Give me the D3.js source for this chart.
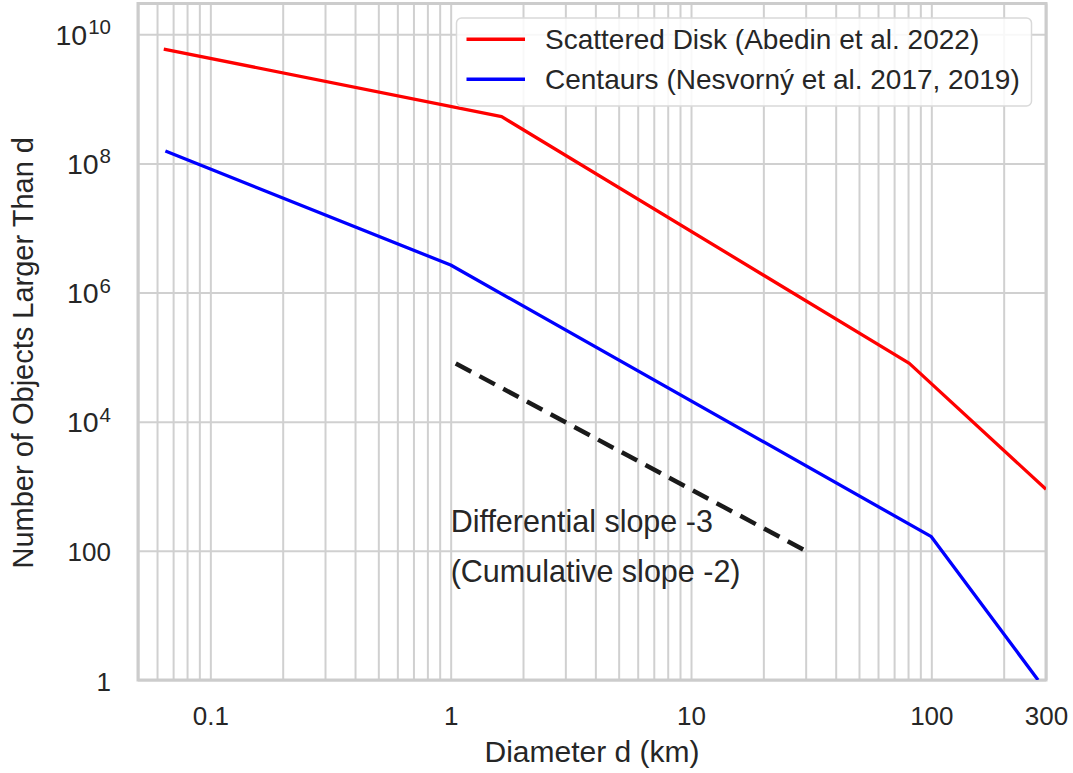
<!DOCTYPE html>
<html><head><meta charset="utf-8">
<script src="https://cdn.jsdelivr.net/npm/d3@7"></script>
<style>
body{margin:0;background:#fff}
svg text{font-family:"Liberation Sans",Arial,Helvetica,sans-serif;fill:#262626}
</style>
</head><body><svg id="chart" width="1073" height="773"></svg>
<script>
// ---- data ----
const sdDiameter = [0.064, 1.63, 81, 300];
const sdCount = [5.9e9, 5.3e8, 8.0e4, 900];
const cenDiameter = [0.065, 1.0, 100, 278];
const cenCount = [1.56e8, 2.67e6, 166, 1];
const refDiameter = [1.05, 30];
const refCount = [8.0e4, 100];
const xTicks = [0.1, 1, 10, 100, 300];
const xTickLabels = ["0.1", "1", "10", "100", "300"];
const yTicks = [1, 100, 1e4, 1e6, 1e8, 1e10];
const yTickBase = ["1", "100", "10", "10", "10", "10"];
const yTickExp = ["", "", "4", "6", "8", "10"];
const seriesNames = ["Scattered Disk (Abedin et al. 2022)", "Centaurs (Nesvorný et al. 2017, 2019)"];
const seriesColors = ["#ff0000", "#0000ff"];
const annotationText = ["Differential slope -3", "(Cumulative slope -2)"];
const annotationD = [1, 1];
const annotationN = [198, 33];
const xLabel = "Diameter d (km)";
const yLabel = "Number of Objects Larger Than d";

// ---- layout ----
const L = 138, R = 1046, T = 3.5, B = 680;
const svg = d3.select("#chart");
const x = d3.scaleLog().domain([0.05, 300]).range([L, R]);
const y = d3.scaleLog().domain([1, 3e10]).range([B, T]);

// vertical grid (major + minor)
const gx = svg.append("g").attr("transform", `translate(0,${B})`)
  .call(d3.axisBottom(x).tickValues(x.ticks()).tickSize(-(B - T)).tickFormat(""));
gx.select(".domain").remove();
gx.selectAll("line").attr("stroke", "#d0d0d0").attr("stroke-width", 2);

// horizontal grid (major only)
const gy = svg.append("g").attr("transform", `translate(${L},0)`)
  .call(d3.axisLeft(y).tickValues(yTicks).tickSize(-(R - L)).tickFormat(""));
gy.select(".domain").remove();
gy.selectAll("line").attr("stroke", "#d0d0d0").attr("stroke-width", 2);

// frame
svg.append("rect").attr("x", L).attr("y", T).attr("width", R - L).attr("height", B - T)
  .attr("fill", "none").attr("stroke", "#cccccc").attr("stroke-width", 3);

// clip
svg.append("clipPath").attr("id", "clip").append("rect")
  .attr("x", L).attr("y", T).attr("width", R - L).attr("height", B - T);

const line = d3.line().x(d => x(d[0])).y(d => y(d[1]));
const plot = svg.append("g").attr("clip-path", "url(#clip)");

plot.append("path").datum(refDiameter.map((d, i) => [d, refCount[i]]))
  .attr("d", line).attr("fill", "none").attr("stroke", "#1a1a1a")
  .attr("stroke-width", 4.5).attr("stroke-dasharray", "17.5,9.4");

plot.append("path").datum(sdDiameter.map((d, i) => [d, sdCount[i]]))
  .attr("d", line).attr("fill", "none").attr("stroke", seriesColors[0])
  .attr("stroke-width", 3.3).attr("stroke-linejoin", "round");

plot.append("path").datum(cenDiameter.map((d, i) => [d, cenCount[i]]))
  .attr("d", line).attr("fill", "none").attr("stroke", seriesColors[1])
  .attr("stroke-width", 3.3).attr("stroke-linejoin", "round");

// annotation
annotationText.forEach((t, i) => {
  svg.append("text").attr("x", x(annotationD[i])).attr("y", y(annotationN[i]))
    .attr("font-size", 30.5).text(t);
});

// x tick labels
const ax = svg.append("g").attr("transform", `translate(0,${B})`)
  .call(d3.axisBottom(x).tickValues(xTicks).tickSize(0).tickFormat((d, i) => xTickLabels[i]));
ax.select(".domain").remove();
ax.selectAll("text").attr("y", 45).attr("dy", null).attr("font-size", 26)
  .attr("font-family", '"Liberation Sans",Arial,sans-serif').attr("fill", "#262626");

// y tick labels
const ay = svg.append("g").attr("transform", `translate(${L},0)`)
  .call(d3.axisLeft(y).tickValues(yTicks).tickSize(0).tickFormat(""));
ay.select(".domain").remove();
ay.selectAll(".tick").each(function (d, i) {
  const t = d3.select(this).select("text");
  const math = !!yTickExp[i];
  t.attr("x", -27).attr("dy", null).attr("y", 10).attr("font-size", math ? 28.5 : 26)
    .attr("font-family", math ? '"DejaVu Sans",sans-serif' : '"Liberation Sans",Arial,sans-serif')
    .attr("fill", "#262626").attr("text-anchor", "end").text(null);
  t.append("tspan").text(yTickBase[i]);
  if (math) t.append("tspan").attr("dx", 1).attr("dy", -10.5).attr("font-size", 20.5).text(yTickExp[i]);
});

// axis labels
svg.append("text").attr("x", (L + R) / 2).attr("y", 762).attr("text-anchor", "middle")
  .attr("font-size", 30).text(xLabel);
svg.append("text").attr("transform", `translate(33,${(T + B) / 2 + 11}) rotate(-90)`)
  .attr("text-anchor", "middle").attr("font-size", 29).text(yLabel);

// legend
const lg = svg.append("g");
lg.append("rect").attr("x", 456.5).attr("y", 18).attr("width", 575).attr("height", 88)
  .attr("rx", 5).attr("fill", "#ffffff").attr("fill-opacity", 0.85)
  .attr("stroke", "#d9d9d9").attr("stroke-width", 1.5);
seriesNames.forEach((n, i) => {
  const cy = 39.3 + i * 40;
  lg.append("line").attr("x1", 466.5).attr("x2", 525).attr("y1", cy).attr("y2", cy)
    .attr("stroke", seriesColors[i]).attr("stroke-width", 3.5);
  lg.append("text").attr("x", 545).attr("y", cy + 10).attr("font-size", 28).text(n);
});
</script></body></html>
